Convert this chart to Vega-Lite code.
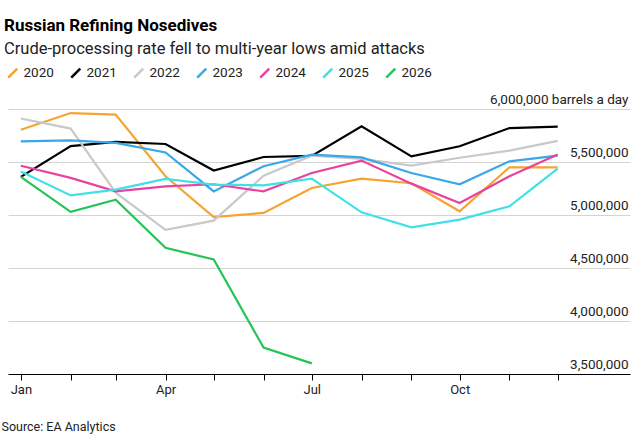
{
"$schema":"https://vega.github.io/schema/vega-lite/v6.json",
"width":622,"height":265,"autosize":{"type":"none"},
"padding":{"left":8,"top":109,"right":13,"bottom":73},
"config":{"font":"Roboto","view":{"stroke":null}},
"title":{"text":"Russian Refining Nosedives","subtitle":"Crude-processing rate fell to multi-year lows amid attacks","anchor":"start","frame":"group","fontSize":17,"fontWeight":"bold","subtitleFontSize":16.5,"subtitleColor":"#222","subtitlePadding":6,"offset":8,"dx":-4},
"data":{"values":[
{"y":"2020","d":"2001-01-01","v":5805000},{"y":"2020","d":"2001-02-01","v":5962000},{"y":"2020","d":"2001-03-01","v":5947000},{"y":"2020","d":"2001-04-01","v":5365000},{"y":"2020","d":"2001-05-01","v":4980000},{"y":"2020","d":"2001-06-01","v":5020000},{"y":"2020","d":"2001-07-01","v":5255000},{"y":"2020","d":"2001-08-01","v":5343000},{"y":"2020","d":"2001-09-01","v":5300000},{"y":"2020","d":"2001-10-01","v":5035000},{"y":"2020","d":"2001-11-01","v":5450000},{"y":"2020","d":"2001-12-01","v":5450000},
{"y":"2021","d":"2001-01-01","v":5360000},{"y":"2021","d":"2001-02-01","v":5650000},{"y":"2021","d":"2001-03-01","v":5690000},{"y":"2021","d":"2001-04-01","v":5670000},{"y":"2021","d":"2001-05-01","v":5420000},{"y":"2021","d":"2001-06-01","v":5547000},{"y":"2021","d":"2001-07-01","v":5557000},{"y":"2021","d":"2001-08-01","v":5836000},{"y":"2021","d":"2001-09-01","v":5553000},{"y":"2021","d":"2001-10-01","v":5648000},{"y":"2021","d":"2001-11-01","v":5820000},{"y":"2021","d":"2001-12-01","v":5833000},
{"y":"2022","d":"2001-01-01","v":5910000},{"y":"2022","d":"2001-02-01","v":5815000},{"y":"2022","d":"2001-03-01","v":5210000},{"y":"2022","d":"2001-04-01","v":4860000},{"y":"2022","d":"2001-05-01","v":4947000},{"y":"2022","d":"2001-06-01","v":5370000},{"y":"2022","d":"2001-07-01","v":5560000},{"y":"2022","d":"2001-08-01","v":5530000},{"y":"2022","d":"2001-09-01","v":5465000},{"y":"2022","d":"2001-10-01","v":5540000},{"y":"2022","d":"2001-11-01","v":5607000},{"y":"2022","d":"2001-12-01","v":5700000},
{"y":"2023","d":"2001-01-01","v":5695000},{"y":"2023","d":"2001-02-01","v":5704000},{"y":"2023","d":"2001-03-01","v":5680000},{"y":"2023","d":"2001-04-01","v":5590000},{"y":"2023","d":"2001-05-01","v":5223000},{"y":"2023","d":"2001-06-01","v":5460000},{"y":"2023","d":"2001-07-01","v":5570000},{"y":"2023","d":"2001-08-01","v":5544000},{"y":"2023","d":"2001-09-01","v":5396000},{"y":"2023","d":"2001-10-01","v":5290000},{"y":"2023","d":"2001-11-01","v":5506000},{"y":"2023","d":"2001-12-01","v":5560000},
{"y":"2024","d":"2001-01-01","v":5465000},{"y":"2024","d":"2001-02-01","v":5350000},{"y":"2024","d":"2001-03-01","v":5223000},{"y":"2024","d":"2001-04-01","v":5270000},{"y":"2024","d":"2001-05-01","v":5290000},{"y":"2024","d":"2001-06-01","v":5223000},{"y":"2024","d":"2001-07-01","v":5396000},{"y":"2024","d":"2001-08-01","v":5513000},{"y":"2024","d":"2001-09-01","v":5296000},{"y":"2024","d":"2001-10-01","v":5113000},{"y":"2024","d":"2001-11-01","v":5365000},{"y":"2024","d":"2001-12-01","v":5570000},
{"y":"2025","d":"2001-01-01","v":5410000},{"y":"2025","d":"2001-02-01","v":5185000},{"y":"2025","d":"2001-03-01","v":5240000},{"y":"2025","d":"2001-04-01","v":5340000},{"y":"2025","d":"2001-05-01","v":5286000},{"y":"2025","d":"2001-06-01","v":5280000},{"y":"2025","d":"2001-07-01","v":5343000},{"y":"2025","d":"2001-08-01","v":5025000},{"y":"2025","d":"2001-09-01","v":4884000},{"y":"2025","d":"2001-10-01","v":4956000},{"y":"2025","d":"2001-11-01","v":5082000},{"y":"2025","d":"2001-12-01","v":5437000},
{"y":"2026","d":"2001-01-01","v":5360000},{"y":"2026","d":"2001-02-01","v":5030000},{"y":"2026","d":"2001-03-01","v":5145000},{"y":"2026","d":"2001-04-01","v":4690000},{"y":"2026","d":"2001-05-01","v":4580000},{"y":"2026","d":"2001-06-01","v":3750000},{"y":"2026","d":"2001-07-01","v":3600000}
]},
"mark":{"type":"line","strokeWidth":2.2,"strokeJoin":"miter"},
"encoding":{
"x":{"field":"d","type":"temporal","scale":{"type":"utc","domain":[{"year":2000,"month":12,"date":24,"utc":true},{"year":2002,"month":1,"date":15,"utc":true}]},
"axis":{"values":[{"year":2001,"month":1,"date":1,"utc":true},{"year":2001,"month":2,"date":1,"utc":true},{"year":2001,"month":3,"date":1,"utc":true},{"year":2001,"month":4,"date":1,"utc":true},{"year":2001,"month":5,"date":1,"utc":true},{"year":2001,"month":6,"date":1,"utc":true},{"year":2001,"month":7,"date":1,"utc":true},{"year":2001,"month":8,"date":1,"utc":true},{"year":2001,"month":9,"date":1,"utc":true},{"year":2001,"month":10,"date":1,"utc":true},{"year":2001,"month":11,"date":1,"utc":true},{"year":2001,"month":12,"date":1,"utc":true}],"grid":false,"domainColor":"#000","tickColor":"#000","tickSize":6,"labelExpr":"indexof([0,3,6,9],utcmonth(datum.value))>=0 ? utcFormat(datum.value,'%b') : ''","labelFontSize":13,"labelColor":"#222","labelPadding":3,"title":"Source: EA Analytics","titleFontSize":12.5,"titleFontWeight":"normal","titleColor":"#222","titleAnchor":"start","titleAlign":"left","titleX":-7,"titlePadding":24}},
"y":{"field":"v","type":"quantitative","scale":{"domain":[3500000,6000000],"zero":false,"nice":false},
"axis":{"orient":"right","values":[3500000,4000000,4500000,5000000,5500000,6000000],"ticks":false,"domain":false,"gridColor":"#d4d4d4","labelAlign":"right","labelBaseline":"bottom","labelPadding":-2,"labelOffset":-3,"labelFontSize":13.5,"labelColor":"#222","labelExpr":"datum.value==6000000 ? '6,000,000 barrels a day' : format(datum.value, ',')","title":null}},
"color":{"field":"y","type":"nominal","scale":{"domain":["2020","2021","2022","2023","2024","2025","2026"],"range":["#f5a431","#000000","#c9c9c9","#38a8e8","#e8439f","#3fe0e8","#24c457"]},
"legend":{"orient":"none","legendX":-2,"legendY":-43,"direction":"horizontal","title":null,"symbolType":"M-1,1L1,-1","symbolStrokeWidth":2.5,"symbolSize":80,"labelFontSize":13.5,"labelColor":"#222","columnPadding":12,"symbolOffset":0}}
}
}
